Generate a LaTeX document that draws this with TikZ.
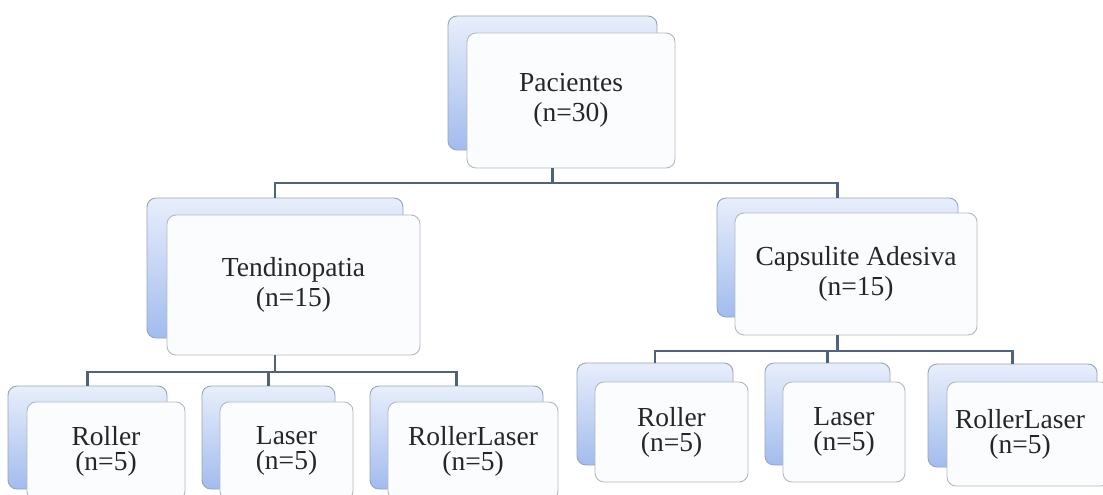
\documentclass[tikz,border=0pt]{standalone}
\usepackage{fontspec}
\setmainfont{Liberation Serif}
\begin{document}
\begin{tikzpicture}[x=1pt,y=-1pt,
  backbox/.style={draw=backline, line width=0.9pt, rounded corners=9pt, top color=backtop, bottom color=backbot, inner sep=0pt, outer sep=0pt},
  frontbox/.style={draw=frontline, line width=0.9pt, rounded corners=9pt, fill=frontfill, inner sep=0pt, outer sep=0pt, text=textcol, align=center, font=\fontsize{27.5}{30}\selectfont},
  smallbox/.style={frontbox, font=\fontsize{27.5}{25}\selectfont},
  lbl/.style={text=textcol, align=center, inner sep=0pt, font=\fontsize{27.5}{25}\selectfont},
  conn/.style={draw=conncol, line width=2.2pt}]
\definecolor{backline}{HTML}{98A4BA}
\definecolor{backtop}{HTML}{E8EEFB}
\definecolor{backbot}{HTML}{A2BCEE}
\definecolor{frontline}{HTML}{B4B8C0}
\definecolor{frontfill}{HTML}{FBFCFE}
\definecolor{textcol}{HTML}{262626}
\definecolor{conncol}{HTML}{50627E}
\useasboundingbox (0,0) rectangle (1103,495);
\fill[white] (0,0) rectangle (1103,495);
\clip (0,0) rectangle (1103,495);
% level 0
\node[backbox, minimum width=209pt, minimum height=134pt] (Pb) at (552.5,83) {};
\node[frontbox, minimum width=208pt, minimum height=135pt] (Pf) at (571,100.5) {Pacientes\\(n=30)};
% level 1
\node[backbox, minimum width=256pt, minimum height=140pt] (Tb) at (275,268) {};
\node[frontbox, minimum width=253pt, minimum height=140pt] (Tf) at (293.5,285) {Tendinopatia\\(n=15)};
\node[backbox, minimum width=241pt, minimum height=119pt] (Cb) at (837.5,257.5) {};
\node[frontbox, minimum width=242pt, minimum height=122pt] (Cf) at (856,274) {Capsulite Adesiva\\(n=15)};
% level 2 left
\node[backbox, minimum width=159pt, minimum height=103pt] (L1b) at (87.5,437.5) {};
\node[smallbox, minimum width=158pt, minimum height=98pt] (L1f) at (106,451) {Roller\\(n=5)};
\node[backbox, minimum width=133pt, minimum height=103pt] (L2b) at (268.5,437.5) {};
\node[smallbox, minimum width=133pt, minimum height=98pt] (L2f) at (286.5,451) {Laser\\(n=5)};
\node[backbox, minimum width=173pt, minimum height=103pt] (L3b) at (456.5,437.5) {};
\node[smallbox, minimum width=170pt, minimum height=98pt] (L3f) at (473,451) {RollerLaser\\(n=5)};
% level 2 right
\node[backbox, minimum width=156pt, minimum height=102pt] (R1b) at (655,414) {};
\node[smallbox, minimum width=153pt, minimum height=100pt] (R1f) at (671.5,432) {Roller\\(n=5)};
\node[backbox, minimum width=125pt, minimum height=102pt] (R2b) at (827.5,414) {};
\node[smallbox, minimum width=122pt, minimum height=100pt] (R2f) at (844,432) {Laser\\(n=5)};
\node[backbox, minimum width=169pt, minimum height=103pt] (R3b) at (1012.5,415.5) {};
\node[smallbox, minimum width=163pt, minimum height=104pt] (R3f) at (1028.5,434) {};
\node[lbl] (R3t) at (1020,434) {RollerLaser\\(n=5)};
% connectors
\coordinate (bus0) at (0,183);
\coordinate (bus1) at (0,372);
\coordinate (bus2) at (0,351);
\draw[conn] (Pb.center |- Pf.south) -- (Pb.center |- bus0);
\draw[conn] (Tb.north) |- (Cb.north |- bus0) -- (Cb.north);
\draw[conn] (Tb.center |- Tf.south) -- (Tb.center |- bus1);
\draw[conn] (L1b.north) |- (L3b.north |- bus1) -- (L3b.north);
\draw[conn] (L2b.north) -- (L2b.north |- bus1);
\draw[conn] (Cb.center |- Cf.south) -- (Cb.center |- bus2);
\draw[conn] (R1b.north) |- (R3b.north |- bus2) -- (R3b.north);
\draw[conn] (R2b.north) -- (R2b.north |- bus2);
\end{tikzpicture}
\end{document}
